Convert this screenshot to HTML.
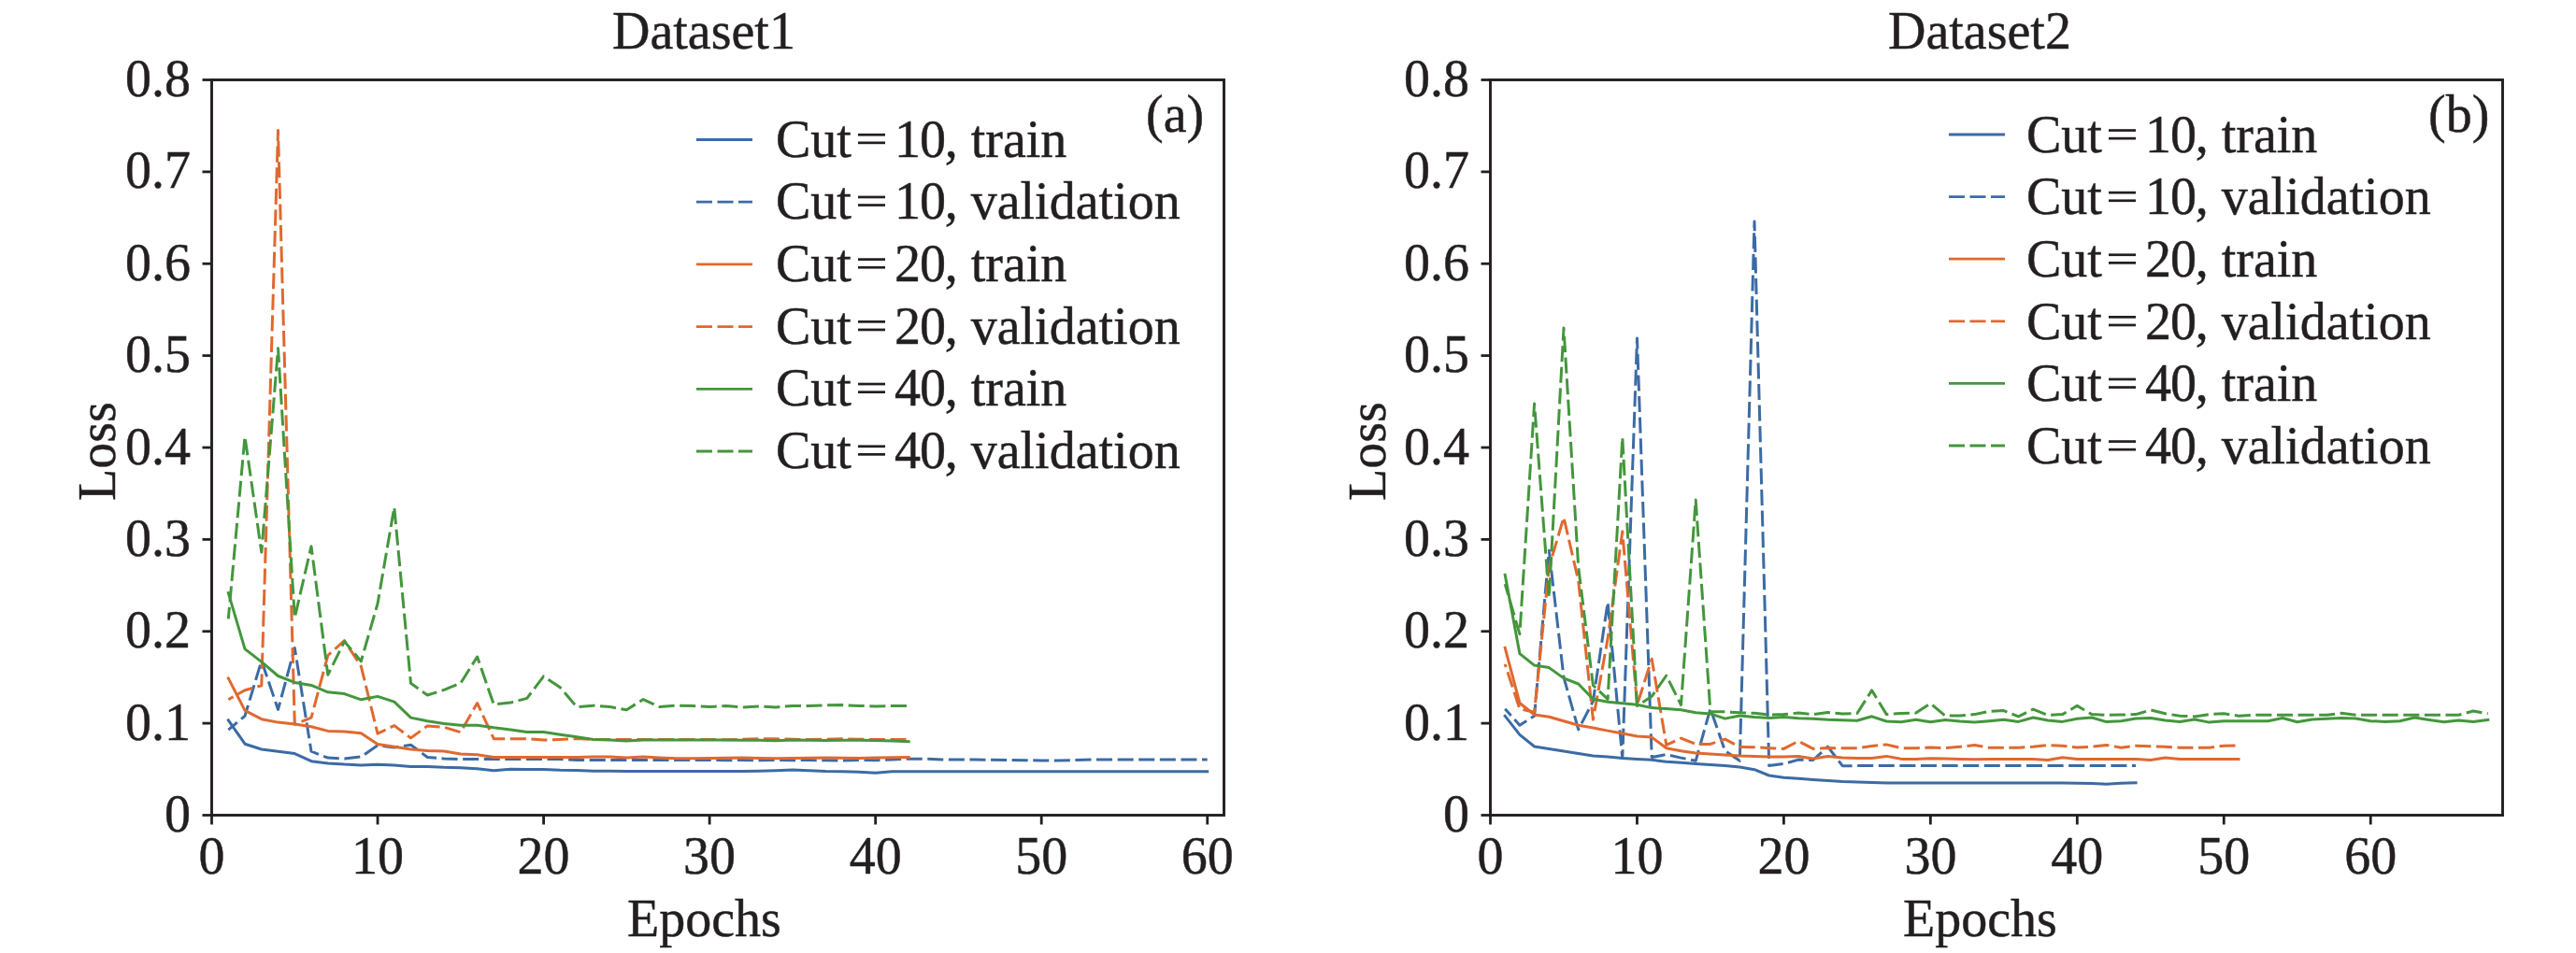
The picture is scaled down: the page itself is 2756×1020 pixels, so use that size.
<!DOCTYPE html><html><head><meta charset="utf-8"><style>html,body{margin:0;padding:0;background:#fff;overflow:hidden}</style></head><body><svg width="2756" height="1020" viewBox="0 0 2756 1020" style="display:block;font-family:'Liberation Serif', serif;">
<style>text{stroke:#231f20;stroke-width:0.45px;paint-order:stroke fill}</style>
<rect width="2756" height="1020" fill="#fff"/>
<clipPath id="c0"><rect x="226.5" y="85.5" width="1083.0" height="787.0"/></clipPath>
<g clip-path="url(#c0)" fill="none" stroke-width="3.0" stroke-linejoin="round">
<polyline points="244.3,770.8 262.0,796.2 279.8,802.0 297.5,804.2 315.3,806.6 333.0,814.7 350.8,816.9 368.5,818.1 386.3,818.9 404.0,818.2 421.8,819.0 439.5,820.4 457.3,820.4 475.1,821.3 492.8,821.8 510.6,822.7 528.3,824.7 546.1,823.3 563.8,823.6 581.6,823.6 599.3,824.3 617.1,824.4 634.8,825.3 652.6,825.3 670.4,825.5 688.1,825.5 705.9,825.5 723.6,825.5 741.4,825.5 759.1,825.5 776.9,825.5 794.6,825.5 812.4,825.3 830.1,824.8 847.9,824.0 865.6,824.8 883.4,825.5 901.2,825.8 918.9,826.3 936.7,827.2 954.4,825.8 972.2,825.8 989.9,825.8 1007.7,825.8 1025.4,825.8 1043.2,825.8 1060.9,825.8 1078.7,825.8 1096.5,825.8 1114.2,825.8 1132.0,825.8 1149.7,825.8 1167.5,825.8 1185.2,825.8 1203.0,825.8 1220.7,825.8 1238.5,825.8 1256.2,825.8 1274.0,825.8 1291.7,825.8" stroke="#3b6ba5" stroke-linecap="square"/>
<polyline points="244.3,781.2 262.0,766.3 279.8,707.2 297.5,759.4 315.3,693.5 333.0,804.2 350.8,811.1 368.5,811.9 386.3,810.0 404.0,797.7 421.8,800.0 439.5,797.2 457.3,810.5 475.1,812.0 492.8,812.5 510.6,812.5 528.3,812.5 546.1,812.5 563.8,812.5 581.6,812.5 599.3,812.5 617.1,813.5 634.8,813.5 652.6,813.5 670.4,813.5 688.1,813.5 705.9,813.5 723.6,813.5 741.4,813.5 759.1,813.5 776.9,813.7 794.6,813.5 812.4,813.8 830.1,813.5 847.9,813.7 865.6,813.5 883.4,813.8 901.2,814.0 918.9,813.5 936.7,813.7 954.4,813.0 972.2,812.2 989.9,812.2 1007.7,812.9 1025.4,813.1 1043.2,813.1 1060.9,813.3 1078.7,813.5 1096.5,813.7 1114.2,813.9 1132.0,814.0 1149.7,813.5 1167.5,813.1 1185.2,812.9 1203.0,812.9 1220.7,812.9 1238.5,812.9 1256.2,812.9 1274.0,812.9 1291.7,812.9" stroke="#3b6ba5" stroke-dasharray="17.05 5.55" stroke-dashoffset="4.6"/>
<polyline points="244.3,725.9 262.0,760.4 279.8,769.7 297.5,773.1 315.3,775.0 333.0,777.8 350.8,782.4 368.5,782.9 386.3,784.7 404.0,796.4 421.8,799.2 439.5,802.1 457.3,803.4 475.1,804.0 492.8,806.9 510.6,807.7 528.3,810.5 546.1,810.5 563.8,810.5 581.6,810.5 599.3,810.5 617.1,810.5 634.8,810.0 652.6,810.0 670.4,811.0 688.1,810.0 705.9,811.0 723.6,811.7 741.4,811.7 759.1,811.5 776.9,811.3 794.6,811.0 812.4,811.5 830.1,811.7 847.9,811.5 865.6,811.3 883.4,811.0 901.2,811.3 918.9,811.5 936.7,811.0 954.4,810.8 972.2,810.6" stroke="#e0692f" stroke-linecap="square"/>
<polyline points="244.3,748.8 262.0,738.7 279.8,733.8 297.5,139.6 315.3,775.4 333.0,768.2 350.8,701.5 368.5,685.6 386.3,713.1 404.0,785.1 421.8,776.6 439.5,789.9 457.3,776.9 475.1,778.3 492.8,783.7 510.6,752.5 528.3,790.7 546.1,790.7 563.8,790.7 581.6,792.1 599.3,791.5 617.1,790.6 634.8,791.5 652.6,791.5 670.4,791.5 688.1,791.5 705.9,791.5 723.6,791.5 741.4,791.5 759.1,791.5 776.9,791.8 794.6,791.3 812.4,790.8 830.1,790.8 847.9,791.3 865.6,791.6 883.4,791.3 901.2,790.8 918.9,791.3 936.7,791.5 954.4,791.5 972.2,791.5" stroke="#e0692f" stroke-dasharray="17.05 5.55" stroke-dashoffset="11.0"/>
<polyline points="244.3,634.6 262.0,694.6 279.8,708.4 297.5,723.5 315.3,730.4 333.0,733.4 350.8,740.8 368.5,742.6 386.3,748.8 404.0,745.4 421.8,751.1 439.5,768.1 457.3,771.8 475.1,774.6 492.8,776.2 510.6,776.2 528.3,778.8 546.1,780.9 563.8,783.6 581.6,783.6 599.3,786.2 617.1,788.8 634.8,791.5 652.6,791.9 670.4,793.1 688.1,791.9 705.9,791.9 723.6,791.9 741.4,791.9 759.1,791.9 776.9,791.9 794.6,792.3 812.4,792.3 830.1,792.8 847.9,792.0 865.6,792.3 883.4,792.6 901.2,792.3 918.9,792.3 936.7,792.6 954.4,793.0 972.2,793.6" stroke="#44963c" stroke-linecap="square"/>
<polyline points="244.3,662.4 262.0,467.3 279.8,591.1 297.5,372.8 315.3,661.2 333.0,584.7 350.8,722.3 368.5,686.6 386.3,707.8 404.0,646.2 421.8,542.9 439.5,731.3 457.3,744.0 475.1,738.4 492.8,731.2 510.6,703.0 528.3,754.0 546.1,752.1 563.8,747.4 581.6,723.8 599.3,735.8 617.1,756.6 634.8,755.2 652.6,756.6 670.4,759.7 688.1,748.6 705.9,756.6 723.6,755.2 741.4,755.6 759.1,756.6 776.9,755.4 794.6,756.9 812.4,755.9 830.1,756.9 847.9,755.4 865.6,755.4 883.4,754.9 901.2,754.6 918.9,755.4 936.7,755.9 954.4,755.5 972.2,755.5" stroke="#44963c" stroke-dasharray="17.05 5.55" stroke-dashoffset="4.4"/>
</g>
<rect x="226.5" y="85.5" width="1083.0" height="787.0" fill="none" stroke="#231f20" stroke-width="2.9"/>
<line x1="216.5" y1="872.50" x2="226.5" y2="872.50" stroke="#231f20" stroke-width="2.8"/>
<text x="204.0" y="890.0" font-size="56" text-anchor="end" fill="#231f20">0</text>
<line x1="216.5" y1="774.12" x2="226.5" y2="774.12" stroke="#231f20" stroke-width="2.8"/>
<text x="204.0" y="791.6" font-size="56" text-anchor="end" fill="#231f20">0.1</text>
<line x1="216.5" y1="675.75" x2="226.5" y2="675.75" stroke="#231f20" stroke-width="2.8"/>
<text x="204.0" y="693.2" font-size="56" text-anchor="end" fill="#231f20">0.2</text>
<line x1="216.5" y1="577.38" x2="226.5" y2="577.38" stroke="#231f20" stroke-width="2.8"/>
<text x="204.0" y="594.9" font-size="56" text-anchor="end" fill="#231f20">0.3</text>
<line x1="216.5" y1="479.00" x2="226.5" y2="479.00" stroke="#231f20" stroke-width="2.8"/>
<text x="204.0" y="496.5" font-size="56" text-anchor="end" fill="#231f20">0.4</text>
<line x1="216.5" y1="380.62" x2="226.5" y2="380.62" stroke="#231f20" stroke-width="2.8"/>
<text x="204.0" y="398.1" font-size="56" text-anchor="end" fill="#231f20">0.5</text>
<line x1="216.5" y1="282.25" x2="226.5" y2="282.25" stroke="#231f20" stroke-width="2.8"/>
<text x="204.0" y="299.8" font-size="56" text-anchor="end" fill="#231f20">0.6</text>
<line x1="216.5" y1="183.88" x2="226.5" y2="183.88" stroke="#231f20" stroke-width="2.8"/>
<text x="204.0" y="201.4" font-size="56" text-anchor="end" fill="#231f20">0.7</text>
<line x1="216.5" y1="85.50" x2="226.5" y2="85.50" stroke="#231f20" stroke-width="2.8"/>
<text x="204.0" y="103.0" font-size="56" text-anchor="end" fill="#231f20">0.8</text>
<line x1="226.50" y1="872.5" x2="226.50" y2="882.5" stroke="#231f20" stroke-width="2.8"/>
<text x="226.5" y="935" font-size="56" text-anchor="middle" fill="#231f20">0</text>
<line x1="404.04" y1="872.5" x2="404.04" y2="882.5" stroke="#231f20" stroke-width="2.8"/>
<text x="404.0" y="935" font-size="56" text-anchor="middle" fill="#231f20">10</text>
<line x1="581.58" y1="872.5" x2="581.58" y2="882.5" stroke="#231f20" stroke-width="2.8"/>
<text x="581.6" y="935" font-size="56" text-anchor="middle" fill="#231f20">20</text>
<line x1="759.12" y1="872.5" x2="759.12" y2="882.5" stroke="#231f20" stroke-width="2.8"/>
<text x="759.1" y="935" font-size="56" text-anchor="middle" fill="#231f20">30</text>
<line x1="936.66" y1="872.5" x2="936.66" y2="882.5" stroke="#231f20" stroke-width="2.8"/>
<text x="936.7" y="935" font-size="56" text-anchor="middle" fill="#231f20">40</text>
<line x1="1114.20" y1="872.5" x2="1114.20" y2="882.5" stroke="#231f20" stroke-width="2.8"/>
<text x="1114.2" y="935" font-size="56" text-anchor="middle" fill="#231f20">50</text>
<line x1="1291.75" y1="872.5" x2="1291.75" y2="882.5" stroke="#231f20" stroke-width="2.8"/>
<text x="1291.7" y="935" font-size="56" text-anchor="middle" fill="#231f20">60</text>
<text x="655" y="52" font-size="56" fill="#231f20">Dataset1</text>
<text x="671" y="1002" font-size="56" fill="#231f20">Epochs</text>
<text transform="translate(123,536) rotate(-90)" font-size="56" fill="#231f20">Loss</text>
<text x="1226" y="141" font-size="56" fill="#231f20">(a)</text>
<line x1="745" y1="149.5" x2="805" y2="149.5" stroke="#3b6ba5" stroke-width="2.8"/>
<text x="830" y="167.5" font-size="56" fill="#231f20">Cut</text>
<rect x="918.0" y="142.9" width="29" height="2.7" fill="#231f20"/>
<rect x="918.0" y="151.5" width="29" height="2.7" fill="#231f20"/>
<text x="957" y="167.5" font-size="56" fill="#231f20" letter-spacing="-1.1">10,</text>
<text x="1038.7" y="167.5" font-size="56" fill="#231f20">train</text>
<line x1="745" y1="216.2" x2="805" y2="216.2" stroke="#3b6ba5" stroke-width="2.8" stroke-dasharray="17 5.5"/>
<text x="830" y="234.2" font-size="56" fill="#231f20">Cut</text>
<rect x="918.0" y="209.6" width="29" height="2.7" fill="#231f20"/>
<rect x="918.0" y="218.2" width="29" height="2.7" fill="#231f20"/>
<text x="957" y="234.2" font-size="56" fill="#231f20" letter-spacing="-1.1">10,</text>
<text x="1038.7" y="234.2" font-size="56" fill="#231f20">validation</text>
<line x1="745" y1="282.9" x2="805" y2="282.9" stroke="#e0692f" stroke-width="2.8"/>
<text x="830" y="300.9" font-size="56" fill="#231f20">Cut</text>
<rect x="918.0" y="276.3" width="29" height="2.7" fill="#231f20"/>
<rect x="918.0" y="284.9" width="29" height="2.7" fill="#231f20"/>
<text x="957" y="300.9" font-size="56" fill="#231f20" letter-spacing="-1.1">20,</text>
<text x="1038.7" y="300.9" font-size="56" fill="#231f20">train</text>
<line x1="745" y1="349.6" x2="805" y2="349.6" stroke="#e0692f" stroke-width="2.8" stroke-dasharray="17 5.5"/>
<text x="830" y="367.6" font-size="56" fill="#231f20">Cut</text>
<rect x="918.0" y="343.0" width="29" height="2.7" fill="#231f20"/>
<rect x="918.0" y="351.6" width="29" height="2.7" fill="#231f20"/>
<text x="957" y="367.6" font-size="56" fill="#231f20" letter-spacing="-1.1">20,</text>
<text x="1038.7" y="367.6" font-size="56" fill="#231f20">validation</text>
<line x1="745" y1="416.3" x2="805" y2="416.3" stroke="#44963c" stroke-width="2.8"/>
<text x="830" y="434.3" font-size="56" fill="#231f20">Cut</text>
<rect x="918.0" y="409.7" width="29" height="2.7" fill="#231f20"/>
<rect x="918.0" y="418.3" width="29" height="2.7" fill="#231f20"/>
<text x="957" y="434.3" font-size="56" fill="#231f20" letter-spacing="-1.1">40,</text>
<text x="1038.7" y="434.3" font-size="56" fill="#231f20">train</text>
<line x1="745" y1="483.0" x2="805" y2="483.0" stroke="#44963c" stroke-width="2.8" stroke-dasharray="17 5.5"/>
<text x="830" y="501.0" font-size="56" fill="#231f20">Cut</text>
<rect x="918.0" y="476.4" width="29" height="2.7" fill="#231f20"/>
<rect x="918.0" y="485.0" width="29" height="2.7" fill="#231f20"/>
<text x="957" y="501.0" font-size="56" fill="#231f20" letter-spacing="-1.1">40,</text>
<text x="1038.7" y="501.0" font-size="56" fill="#231f20">validation</text>
<clipPath id="c1"><rect x="1594.5" y="85.5" width="1083.0" height="787.0"/></clipPath>
<g clip-path="url(#c1)" fill="none" stroke-width="3.0" stroke-linejoin="round">
<polyline points="1610.2,766.3 1625.9,786.4 1641.6,799.0 1657.3,801.6 1673.0,804.0 1688.7,806.6 1704.4,809.0 1720.1,810.0 1735.8,811.5 1751.5,812.4 1767.2,813.2 1782.8,815.3 1798.5,816.3 1814.2,817.4 1829.9,818.5 1845.6,819.6 1861.3,821.0 1877.0,823.7 1892.7,830.0 1908.4,832.2 1924.1,833.3 1939.8,834.6 1955.5,835.6 1971.2,836.6 1986.9,837.1 2002.6,837.6 2018.3,837.9 2034.0,838.1 2049.7,838.1 2065.4,838.1 2081.1,838.1 2096.8,838.1 2112.5,838.1 2128.2,838.1 2143.8,838.1 2159.5,838.1 2175.2,838.1 2190.9,838.1 2206.6,838.1 2222.3,838.3 2238.0,838.6 2253.7,839.3 2269.4,838.3 2285.1,837.9" stroke="#3b6ba5" stroke-linecap="square"/>
<polyline points="1610.2,758.7 1625.9,776.3 1641.6,766.3 1657.3,589.2 1673.0,724.9 1688.7,780.9 1704.4,750.5 1720.1,644.6 1735.8,811.5 1751.5,361.9 1767.2,810.5 1782.8,807.6 1798.5,811.1 1814.2,814.3 1829.9,758.6 1845.6,803.7 1861.3,814.3 1877.0,237.0 1892.7,819.6 1908.4,817.5 1924.1,813.1 1939.8,813.5 1955.5,799.1 1971.2,819.7 1986.9,819.6 2002.6,819.6 2018.3,819.6 2034.0,819.6 2049.7,819.6 2065.4,819.6 2081.1,819.6 2096.8,819.6 2112.5,819.6 2128.2,819.6 2143.8,819.6 2159.5,819.6 2175.2,819.6 2190.9,819.6 2206.6,819.6 2222.3,819.6 2238.0,819.6 2253.7,819.6 2269.4,819.6 2285.1,819.6" stroke="#3b6ba5" stroke-dasharray="17.05 5.55" stroke-dashoffset="7.3"/>
<polyline points="1610.2,693.3 1625.9,752.5 1641.6,765.0 1657.3,767.3 1673.0,771.8 1688.7,776.2 1704.4,779.1 1720.1,782.1 1735.8,785.0 1751.5,787.9 1767.2,789.1 1782.8,800.7 1798.5,803.7 1814.2,805.9 1829.9,806.9 1845.6,808.0 1861.3,809.0 1877.0,809.6 1892.7,810.0 1908.4,810.1 1924.1,809.4 1939.8,811.9 1955.5,809.4 1971.2,810.9 1986.9,811.5 2002.6,811.5 2018.3,809.4 2034.0,812.4 2049.7,812.4 2065.4,811.7 2081.1,812.0 2096.8,812.4 2112.5,812.8 2128.2,812.5 2143.8,812.5 2159.5,812.5 2175.2,812.5 2190.9,813.4 2206.6,810.8 2222.3,812.5 2238.0,812.5 2253.7,812.5 2269.4,812.5 2285.1,812.5 2300.8,813.4 2316.5,811.0 2332.2,812.5 2347.9,812.5 2363.6,812.5 2379.3,812.5 2395.0,812.5" stroke="#e0692f" stroke-linecap="square"/>
<polyline points="1610.2,710.9 1625.9,758.7 1641.6,762.3 1657.3,606.9 1673.0,553.8 1688.7,621.6 1704.4,770.2 1720.1,683.6 1735.8,568.8 1751.5,754.5 1767.2,705.2 1782.8,797.4 1798.5,790.1 1814.2,796.4 1829.9,796.4 1845.6,791.1 1861.3,799.5 1877.0,799.7 1892.7,800.7 1908.4,801.4 1924.1,793.3 1939.8,801.4 1955.5,800.6 1971.2,800.7 1986.9,800.7 2002.6,798.4 2018.3,796.9 2034.0,800.7 2049.7,800.7 2065.4,800.0 2081.1,800.7 2096.8,799.2 2112.5,797.6 2128.2,800.2 2143.8,800.2 2159.5,800.2 2175.2,799.2 2190.9,797.6 2206.6,798.2 2222.3,800.0 2238.0,799.2 2253.7,797.4 2269.4,800.2 2285.1,798.2 2300.8,798.7 2316.5,799.2 2332.2,800.2 2347.9,800.2 2363.6,800.2 2379.3,798.2 2395.0,797.9" stroke="#e0692f" stroke-dasharray="17.05 5.55" stroke-dashoffset="13.8"/>
<polyline points="1610.2,615.2 1625.9,699.6 1641.6,712.1 1657.3,714.6 1673.0,725.9 1688.7,732.0 1704.4,748.3 1720.1,751.2 1735.8,752.7 1751.5,754.2 1767.2,757.6 1782.8,758.6 1798.5,759.7 1814.2,762.8 1829.9,763.9 1845.6,769.1 1861.3,766.0 1877.0,767.6 1892.7,768.4 1908.4,767.5 1924.1,768.7 1939.8,769.2 1955.5,770.2 1971.2,770.7 1986.9,771.2 2002.6,766.8 2018.3,772.0 2034.0,772.7 2049.7,770.2 2065.4,772.7 2081.1,770.4 2096.8,772.0 2112.5,773.1 2128.2,771.7 2143.8,770.2 2159.5,772.4 2175.2,768.0 2190.9,770.9 2206.6,772.4 2222.3,769.2 2238.0,768.0 2253.7,772.6 2269.4,771.7 2285.1,769.0 2300.8,768.5 2316.5,770.9 2332.2,772.4 2347.9,770.0 2363.6,773.1 2379.3,771.7 2395.0,771.7 2410.7,771.7 2426.4,771.7 2442.1,768.5 2457.8,772.7 2473.5,770.0 2489.2,769.2 2504.8,768.5 2520.5,769.0 2536.2,771.7 2551.9,772.4 2567.6,771.7 2583.3,768.0 2599.0,770.4 2614.7,772.7 2630.4,770.9 2646.1,772.4 2661.8,770.4" stroke="#44963c" stroke-linecap="square"/>
<polyline points="1610.2,625.2 1625.9,678.7 1641.6,432.0 1657.3,639.4 1673.0,351.1 1688.7,606.9 1704.4,733.5 1720.1,748.3 1735.8,468.2 1751.5,755.6 1767.2,745.3 1782.8,723.0 1798.5,754.5 1814.2,535.1 1829.9,761.8 1845.6,761.8 1861.3,762.8 1877.0,763.3 1892.7,765.0 1908.4,764.6 1924.1,763.1 1939.8,764.6 1955.5,762.4 1971.2,763.9 1986.9,763.5 2002.6,738.9 2018.3,764.6 2034.0,763.5 2049.7,763.1 2065.4,752.9 2081.1,766.1 2096.8,766.1 2112.5,764.6 2128.2,761.3 2143.8,760.6 2159.5,766.9 2175.2,759.1 2190.9,765.4 2206.6,764.6 2222.3,755.4 2238.0,764.6 2253.7,765.4 2269.4,765.0 2285.1,764.6 2300.8,759.9 2316.5,763.8 2332.2,766.2 2347.9,766.9 2363.6,764.6 2379.3,763.8 2395.0,766.2 2410.7,765.3 2426.4,765.3 2442.1,765.3 2457.8,765.3 2473.5,765.3 2489.2,765.3 2504.8,763.3 2520.5,765.3 2536.2,765.3 2551.9,765.3 2567.6,765.3 2583.3,765.3 2599.0,765.3 2614.7,765.3 2630.4,765.3 2646.1,761.0 2661.8,763.8" stroke="#44963c" stroke-dasharray="17.05 5.55" stroke-dashoffset="4.9"/>
</g>
<rect x="1594.5" y="85.5" width="1083.0" height="787.0" fill="none" stroke="#231f20" stroke-width="2.9"/>
<line x1="1584.5" y1="872.50" x2="1594.5" y2="872.50" stroke="#231f20" stroke-width="2.8"/>
<text x="1572.0" y="890.0" font-size="56" text-anchor="end" fill="#231f20">0</text>
<line x1="1584.5" y1="774.12" x2="1594.5" y2="774.12" stroke="#231f20" stroke-width="2.8"/>
<text x="1572.0" y="791.6" font-size="56" text-anchor="end" fill="#231f20">0.1</text>
<line x1="1584.5" y1="675.75" x2="1594.5" y2="675.75" stroke="#231f20" stroke-width="2.8"/>
<text x="1572.0" y="693.2" font-size="56" text-anchor="end" fill="#231f20">0.2</text>
<line x1="1584.5" y1="577.38" x2="1594.5" y2="577.38" stroke="#231f20" stroke-width="2.8"/>
<text x="1572.0" y="594.9" font-size="56" text-anchor="end" fill="#231f20">0.3</text>
<line x1="1584.5" y1="479.00" x2="1594.5" y2="479.00" stroke="#231f20" stroke-width="2.8"/>
<text x="1572.0" y="496.5" font-size="56" text-anchor="end" fill="#231f20">0.4</text>
<line x1="1584.5" y1="380.62" x2="1594.5" y2="380.62" stroke="#231f20" stroke-width="2.8"/>
<text x="1572.0" y="398.1" font-size="56" text-anchor="end" fill="#231f20">0.5</text>
<line x1="1584.5" y1="282.25" x2="1594.5" y2="282.25" stroke="#231f20" stroke-width="2.8"/>
<text x="1572.0" y="299.8" font-size="56" text-anchor="end" fill="#231f20">0.6</text>
<line x1="1584.5" y1="183.88" x2="1594.5" y2="183.88" stroke="#231f20" stroke-width="2.8"/>
<text x="1572.0" y="201.4" font-size="56" text-anchor="end" fill="#231f20">0.7</text>
<line x1="1584.5" y1="85.50" x2="1594.5" y2="85.50" stroke="#231f20" stroke-width="2.8"/>
<text x="1572.0" y="103.0" font-size="56" text-anchor="end" fill="#231f20">0.8</text>
<line x1="1594.50" y1="872.5" x2="1594.50" y2="882.5" stroke="#231f20" stroke-width="2.8"/>
<text x="1594.5" y="935" font-size="56" text-anchor="middle" fill="#231f20">0</text>
<line x1="1751.46" y1="872.5" x2="1751.46" y2="882.5" stroke="#231f20" stroke-width="2.8"/>
<text x="1751.5" y="935" font-size="56" text-anchor="middle" fill="#231f20">10</text>
<line x1="1908.41" y1="872.5" x2="1908.41" y2="882.5" stroke="#231f20" stroke-width="2.8"/>
<text x="1908.4" y="935" font-size="56" text-anchor="middle" fill="#231f20">20</text>
<line x1="2065.37" y1="872.5" x2="2065.37" y2="882.5" stroke="#231f20" stroke-width="2.8"/>
<text x="2065.4" y="935" font-size="56" text-anchor="middle" fill="#231f20">30</text>
<line x1="2222.33" y1="872.5" x2="2222.33" y2="882.5" stroke="#231f20" stroke-width="2.8"/>
<text x="2222.3" y="935" font-size="56" text-anchor="middle" fill="#231f20">40</text>
<line x1="2379.28" y1="872.5" x2="2379.28" y2="882.5" stroke="#231f20" stroke-width="2.8"/>
<text x="2379.3" y="935" font-size="56" text-anchor="middle" fill="#231f20">50</text>
<line x1="2536.24" y1="872.5" x2="2536.24" y2="882.5" stroke="#231f20" stroke-width="2.8"/>
<text x="2536.2" y="935" font-size="56" text-anchor="middle" fill="#231f20">60</text>
<text x="2020" y="52" font-size="56" fill="#231f20">Dataset2</text>
<text x="2036" y="1002" font-size="56" fill="#231f20">Epochs</text>
<text transform="translate(1482,536) rotate(-90)" font-size="56" fill="#231f20">Loss</text>
<text x="2598" y="141" font-size="56" fill="#231f20">(b)</text>
<line x1="2085" y1="144.0" x2="2145" y2="144.0" stroke="#3b6ba5" stroke-width="2.8"/>
<text x="2168" y="162.8" font-size="56" fill="#231f20">Cut</text>
<rect x="2256.0" y="138.2" width="29" height="2.7" fill="#231f20"/>
<rect x="2256.0" y="146.8" width="29" height="2.7" fill="#231f20"/>
<text x="2295" y="162.8" font-size="56" fill="#231f20" letter-spacing="-1.1">10,</text>
<text x="2376.7" y="162.8" font-size="56" fill="#231f20">train</text>
<line x1="2085" y1="210.6" x2="2145" y2="210.6" stroke="#3b6ba5" stroke-width="2.8" stroke-dasharray="17 5.5"/>
<text x="2168" y="229.4" font-size="56" fill="#231f20">Cut</text>
<rect x="2256.0" y="204.8" width="29" height="2.7" fill="#231f20"/>
<rect x="2256.0" y="213.4" width="29" height="2.7" fill="#231f20"/>
<text x="2295" y="229.4" font-size="56" fill="#231f20" letter-spacing="-1.1">10,</text>
<text x="2376.7" y="229.4" font-size="56" fill="#231f20">validation</text>
<line x1="2085" y1="277.2" x2="2145" y2="277.2" stroke="#e0692f" stroke-width="2.8"/>
<text x="2168" y="296.0" font-size="56" fill="#231f20">Cut</text>
<rect x="2256.0" y="271.4" width="29" height="2.7" fill="#231f20"/>
<rect x="2256.0" y="280.0" width="29" height="2.7" fill="#231f20"/>
<text x="2295" y="296.0" font-size="56" fill="#231f20" letter-spacing="-1.1">20,</text>
<text x="2376.7" y="296.0" font-size="56" fill="#231f20">train</text>
<line x1="2085" y1="343.8" x2="2145" y2="343.8" stroke="#e0692f" stroke-width="2.8" stroke-dasharray="17 5.5"/>
<text x="2168" y="362.6" font-size="56" fill="#231f20">Cut</text>
<rect x="2256.0" y="338.0" width="29" height="2.7" fill="#231f20"/>
<rect x="2256.0" y="346.6" width="29" height="2.7" fill="#231f20"/>
<text x="2295" y="362.6" font-size="56" fill="#231f20" letter-spacing="-1.1">20,</text>
<text x="2376.7" y="362.6" font-size="56" fill="#231f20">validation</text>
<line x1="2085" y1="410.4" x2="2145" y2="410.4" stroke="#44963c" stroke-width="2.8"/>
<text x="2168" y="429.2" font-size="56" fill="#231f20">Cut</text>
<rect x="2256.0" y="404.6" width="29" height="2.7" fill="#231f20"/>
<rect x="2256.0" y="413.2" width="29" height="2.7" fill="#231f20"/>
<text x="2295" y="429.2" font-size="56" fill="#231f20" letter-spacing="-1.1">40,</text>
<text x="2376.7" y="429.2" font-size="56" fill="#231f20">train</text>
<line x1="2085" y1="477.0" x2="2145" y2="477.0" stroke="#44963c" stroke-width="2.8" stroke-dasharray="17 5.5"/>
<text x="2168" y="495.8" font-size="56" fill="#231f20">Cut</text>
<rect x="2256.0" y="471.2" width="29" height="2.7" fill="#231f20"/>
<rect x="2256.0" y="479.8" width="29" height="2.7" fill="#231f20"/>
<text x="2295" y="495.8" font-size="56" fill="#231f20" letter-spacing="-1.1">40,</text>
<text x="2376.7" y="495.8" font-size="56" fill="#231f20">validation</text>
</svg></body></html>
